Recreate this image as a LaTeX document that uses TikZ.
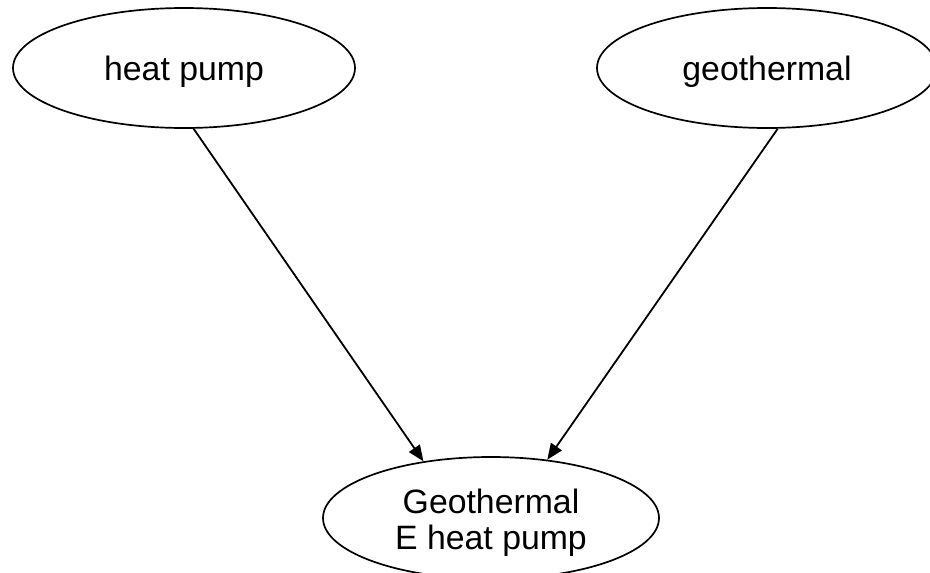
\documentclass[tikz,border=0pt]{standalone}
\usepackage{fontspec}
\setmainfont{Liberation Sans}
\usetikzlibrary{shapes.geometric,arrows.meta}
\newcommand{\lowtxt}[2]{\raisebox{-#1}[\height][\depth]{#2}}
\begin{document}
\begin{tikzpicture}[x=1pt,y=-1pt,
  ell/.style={ellipse, draw, line width=1.7pt, inner sep=0pt,
    font=\fontsize{33.8}{36}\selectfont, align=center},
  conn/.style={line width=1.8pt, -{Triangle[length=16pt,width=13pt]}}]
\useasboundingbox (0,0) rectangle (930,573);
\node[ell, minimum width=342pt, minimum height=120pt] (hp) at (184,68) {\lowtxt{4pt}{heat pump}};
\node[ell, minimum width=340pt, minimum height=120pt] (geo) at (767,68) {\lowtxt{4pt}{geothermal}};
\node[ell, minimum width=336pt, minimum height=122pt] (ghp) at (491,518) {\lowtxt{5pt}{Geothermal}\\\lowtxt{5pt}{E heat pump}};
\draw[conn] (hp.-81.3) -- (ghp.140.5);
\draw[conn] (geo.-80.4) -- (ghp.46);
\end{tikzpicture}
\end{document}
